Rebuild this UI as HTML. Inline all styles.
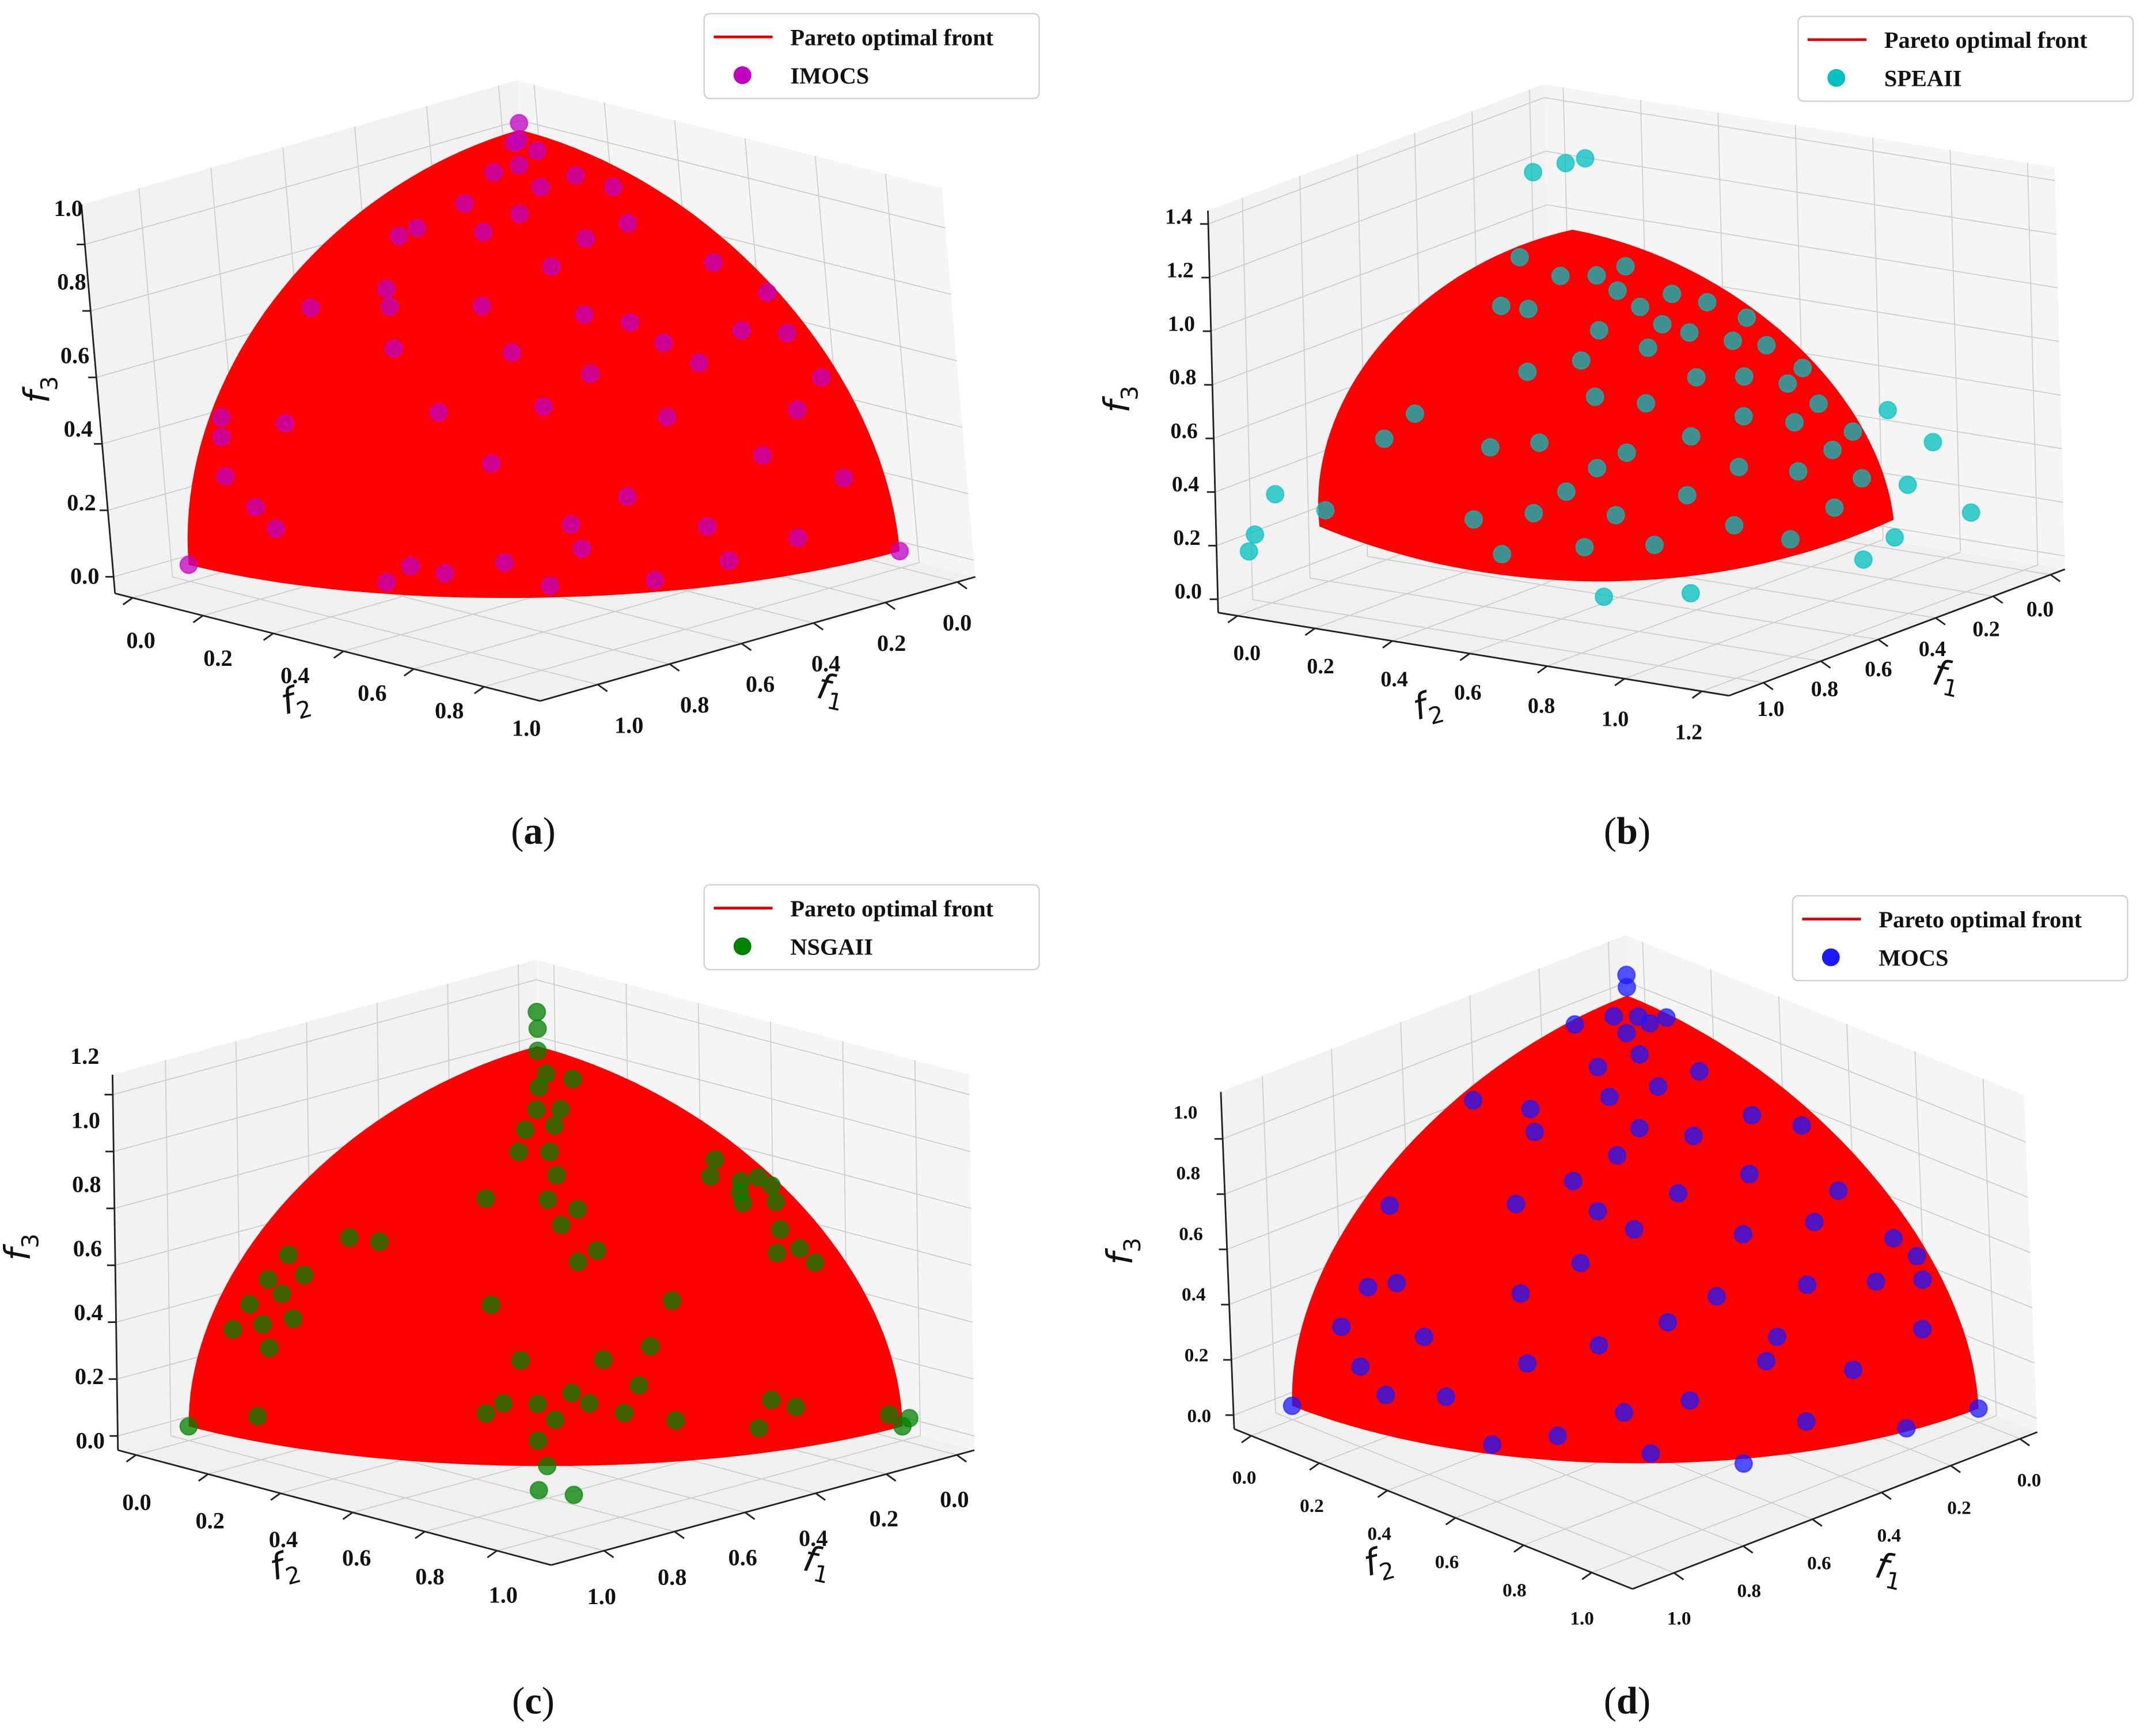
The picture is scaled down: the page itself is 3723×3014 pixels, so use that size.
<!DOCTYPE html>
<html><head><meta charset="utf-8">
<style>html,body{margin:0;padding:0;background:#fff;}svg{display:block}</style></head>
<body>
<svg id="fig" xmlns="http://www.w3.org/2000/svg" width="3723" height="3014" viewBox="0 0 1568 1269.4" preserveAspectRatio="none">
<rect width="1568" height="1270" fill="#fff"/>
</svg>
<script>
// Scatter data: [azimuth deg (0 = f1 edge, 90 = f2 edge), elevation deg, radius]
const imocsPts = [[0,0,1],[90,0,1],[45,90,1.02],[44,86,1],[2,25,1],[3,22,1],[8,45,1],[10,12,1],[13,9,1],[16,60,1],[19,62,1],[20,50,1],[22,47,1],[25,40,1],[27,2,1],[30,5,1],[33,30,1],[34,4,1],[36,62,1],[38,48,1],[40,22,1],[41,6,1],[43,40,1],[45,66,1],[45,78,1],[47,31,1],[46,2,1],[49,12,1],[51,55,1],[53,72,1],[54,36,1],[56,16,1],[58,2,1],[60,82,1],[60,60,1],[62,44,1],[63,28,1],[65,10,1],[67,4,1],[69,74,1],[70,36,1],[72,62,1],[74,20,1],[76,6,1],[78,70,1],[79,40,1],[81,26,1],[83,52,1],[84,14,1],[86,38,1],[87,30,1],[88,45,1],[38,85,1],[33,76,1],[28,68,1],[55,46,1],[66,40,1],[12,26,1],[5,16,1],[50,8,1]];
const speaPts = [[2,10,1.2],[1,2,1.25],[2,0,1.3],[6,8,1.1],[10,25,1],[14,32,1],[22,60,1],[28,28,1],[26,12,1],[30,5,1],[33,45,1],[36,30,1],[38,70,1],[40,20,1],[42,8,1],[44,-3,1.02],[46,40,1],[47,15,1],[49,55,1],[50,28,1],[52,8,1],[53,70,1],[55,38,1],[56,-3,1.03],[58,18,1],[59,50,1],[61,30,1],[62,60,1],[64,10,1],[66,42,1],[67,22,1],[68,72,1],[70,52,1],[71,32,1],[72,4,1],[74,62,1],[75,40,1],[76,18,1],[78,48,1],[79,28,1],[80,8,1],[81,58,1],[82,36,1],[83,20,1],[84,45,1],[85,30,1],[86,12,1],[86,52,1],[87,38,1],[88,22,1],[88,10,1.12],[89,25,1.15],[89,18,1.25],[89,5,1.3],[83,2,1.15],[78,0,1.15],[48,88,1.3],[25,80,1.35],[55,78,1.45],[20,72,1.05],[30,60,1],[44,48,1],[58,65,1],[65,55,1],[35,15,1],[45,25,1]];
const nsgaPts = [[0,0,1],[90,0,1],[90,2,1.02],[47,90,1.12],[46,88,1.08],[45,86,1.02],[4,20,1],[5,25,1],[6,30,1],[7,35,1],[8,22,1],[9,28,1],[10,18,1],[11,32,1],[12,24,1],[15,40,1],[20,40,1],[10,5,1],[35,50,1],[38,30,1],[40,60,1],[41,65,1],[44,5,1],[44,70,1],[45,76,1],[46,50,1],[47,60,1],[48,45,1],[48,55,1],[49,66,1],[50,38,1],[50,80,1],[51,48,1],[52,70,1],[53,40,1],[44,12,1],[46,9,1],[48,14,1],[50,12,1],[52,20,1],[54,10,1],[56,15,1],[58,22,1],[42,20,1],[40,12,1],[38,10,1],[45,0,1],[60,8,1],[62,30,1],[64,78,1],[70,5,1],[72,10,1],[75,8,1],[78,52,1],[80,46,1],[81,48,1],[82,55,1],[83,50,1],[84,36,1],[85,33,1],[86,45,1],[87,50,1],[88,48,1],[80,36,1],[83,40,1],[88,3,1],[48,-6,1],[44,-5,1]];
const mocsPts = [[0,0,1],[90,0,1],[45,90,1.03],[46,92,1.05],[5,40,1],[6,18,1],[8,26,1],[10,12,1],[12,28,1],[14,8,1],[18,20,1],[20,62,1],[22,10,1],[24,58,1],[26,45,1],[28,2,1],[30,30,1],[32,18,1],[34,72,1],[35,50,1],[36,5,1],[38,36,1],[40,66,1],[41,22,1],[43,55,1],[44,10,1],[45,80,1],[46,42,1],[47,2,1],[48,60,1],[50,26,1],[51,75,1],[52,12,1],[54,48,1],[55,68,1],[57,30,1],[58,-1,1],[60,58,1],[62,18,1],[63,40,1],[65,82,1],[66,6,1],[68,50,1],[70,30,1],[71,70,1],[73,14,1],[75,40,1],[76,60,1],[78,2,1.03],[80,28,1],[82,44,1],[84,18,1],[85,56,1],[86,34,1],[87,26,1],[88,30,1],[16,78,1.05],[8,60,1.05],[72,80,1.05],[30,84,1],[58,84,1],[40,45,1],[64,22,1]];
// Axis tick labels
const ticksA3 = [0,0.2,0.4,0.6,0.8,1.0];
const ticksA2 = [0,0.2,0.4,0.6,0.8,1.0];
const ticksA1 = [0,0.2,0.4,0.6,0.8,1.0];
const ticksB3 = [0,0.2,0.4,0.6,0.8,1.0,1.2,1.4];
const ticksB2 = [0,0.2,0.4,0.6,0.8,1.0,1.2];
const ticksB1 = [0,0.2,0.4,0.6,0.8,1.0];
const ticksC3 = [0,0.2,0.4,0.6,0.8,1.0,1.2];
const ticksD3 = [0,0.2,0.4,0.6,0.8,1.0];
const legendNames = ["IMOCS","SPEAII","NSGAII","MOCS"];
const captions = ["(a)","(b)","(c)","(d)"];

const NS = "http://www.w3.org/2000/svg";
const svg = document.getElementById('fig');
function mk(tag, attrs, parent, txt){
  const e = document.createElementNS(NS, tag);
  for (const k in attrs) e.setAttribute(k, attrs[k]);
  if (txt !== undefined) e.textContent = txt;
  (parent||svg).appendChild(e);
  return e;
}

const panels = [
  {O:[401,338],e1:[-263,75],e2:[257,65],e3:[-21,-243],q:[0,0],lo:-0.05,hi1:1.16,hi2:1.16,hi3:1.12,t1:ticksA1,t2:ticksA2,t3:ticksA3,
   pts:imocsPts,col:'#bf00bf',leg:[515,10],cap:[390,607],tl3:[36,285],tl2:[218,520],tl1:[606,512],fs:17,
   lab3:[[62,421],[50,152],1],lab2:[[103,468],[385,532],1],lab1:[[700,455],[460,530],1]},
  {O:[1170,340],e1:[-205,45],e2:[215,40],e3:[-20,-172],q:[0,50],lo:-0.05,hi1:1.12,hi2:1.27,hi3:1.45,t1:ticksB1,t2:ticksB2,t3:ticksB3,
   box:{O:[1140,352],e1:[-210,79],e2:[283,46],e3:[-5,-196]},
   pts:speaPts,col:'#00bfbf',leg:[1315,12],cap:[1190,607],tl3:[826,292],tl2:[1046,524],tl1:[1422,502],fs:16,
   lab3:[[869,432],[862,158],1.4],lab2:[[912,477],[1235,535],1.2],lab1:[[1492,445],[1295,518],1]},
  {O:[396,973],e1:[-258,70],e2:[264,70],e3:[-3,-208],q:[0,0],lo:-0.05,hi1:1.15,hi2:1.15,hi3:1.27,t1:ticksA1,t2:ticksA2,t3:ticksC3,
   pts:nsgaPts,col:'#008000',leg:[515,647],cap:[390,1243],tl3:[22,912],tl2:[210,1153],tl1:[596,1150],fs:17,
   lab3:[[66,1053],[62,772],1.2],lab2:[[100,1098],[368,1166],1],lab1:[[698,1096],[440,1167],1]},
  {O:[1198,930],e1:[-253,98],e2:[249,100],e3:[-8,-202],q:[0,0],lo:-0.05,hi1:1.12,hi2:1.12,hi3:1.17,t1:ticksA1,t2:ticksA2,t3:ticksD3,
   pts:mocsPts,col:'#1a1aff',leg:[1311,655],cap:[1190,1243],tl3:[828,915],tl2:[1010,1150],tl1:[1380,1155],fs:14,
   lab3:[[877,1035],[867,813],1],lab2:[[910,1080],[1157,1183],1],lab1:[[1484,1082],[1228,1183],1]}
];

panels.forEach((p, pi) => {
  const g = mk('g', {});
  
  
  const P = (a,b,c) => [p.O[0]+a*p.e1[0]+b*p.e2[0]+c*p.e3[0]+a*b*p.q[0],
                        p.O[1]+a*p.e1[1]+b*p.e2[1]+c*p.e3[1]+a*b*p.q[1]];
  const bx = p.box || {O:p.O,e1:p.e1,e2:p.e2,e3:p.e3};
  const B = (a,b,c) => (p.box ? [bx.O[0]+a*bx.e1[0]+b*bx.e2[0]+c*bx.e3[0], bx.O[1]+a*bx.e1[1]+b*bx.e2[1]+c*bx.e3[1]] : P(a,b,c));
  const poly = (arr) => arr.map(v=>v[0].toFixed(1)+','+v[1].toFixed(1)).join(' ');
  const lo=p.lo, h1=p.hi1, h2=p.hi2, h3=p.hi3;
  const floor = mk('polygon',{points:poly([B(lo,lo,lo),B(h1,lo,lo),B(h1,h2,lo),B(lo,h2,lo)]),fill:'#f0f0f0',stroke:'none'},g);
   
  const w1 = mk('polygon',{points:poly([B(lo,lo,lo),B(lo,h2,lo),B(lo,h2,h3),B(lo,lo,h3)]),fill:'#f5f5f5',stroke:'none'},g);
   
  const w2 = mk('polygon',{points:poly([B(lo,lo,lo),B(h1,lo,lo),B(h1,lo,h3),B(lo,lo,h3)]),fill:'#f2f2f2',stroke:'none'},g);
   
  const line=(a,b,attrs)=>mk('line',Object.assign({x1:a[0],y1:a[1],x2:b[0],y2:b[1]},attrs),g);
  const gs={stroke:'#cfcfcf','stroke-width':0.8};
  p.t1.forEach(v=>{line(B(v,lo,lo),B(v,h2,lo),gs);line(B(v,lo,lo),B(v,lo,h3),gs);});
  p.t2.forEach(v=>{line(B(lo,v,lo),B(h1,v,lo),gs);line(B(lo,v,lo),B(lo,v,h3),gs);});
  p.t3.forEach(v=>{line(B(lo,lo,v),B(lo,h2,v),gs);line(B(lo,lo,v),B(h1,lo,v),gs);});
  const as={stroke:'#222','stroke-width':1.2};
  line(B(h1,lo,lo),B(h1,lo,h3),as);
  line(B(h1,lo,lo),B(h1,h2,lo),as);
  line(B(h1,h2,lo),B(lo,h2,lo),as);
  const lab=(L,v)=>[L[0][0]+(L[1][0]-L[0][0])*v/L[2], L[0][1]+(L[1][1]-L[0][1])*v/L[2]];
  const tf={'font-family':'"Liberation Serif",serif','font-weight':'bold','font-size':p.fs,fill:'#111','text-anchor':'middle'};
  p.t3.forEach(v=>{const q=B(h1,lo,v);line(q,[q[0]-6,q[1]],as);
    const s=lab(p.lab3,v);
    const t=mk('text',Object.assign({x:s[0].toFixed(1),y:(s[1]+p.fs*0.35).toFixed(1)},tf),g,v.toFixed(1));
     });
  p.t2.forEach(v=>{const q=B(h1,v,lo);line(q,[q[0]-7,q[1]+5],as);
    const s=lab(p.lab2,v);
    const t=mk('text',Object.assign({x:s[0].toFixed(1),y:(s[1]+p.fs*0.35).toFixed(1)},tf),g,v.toFixed(1));
     });
  p.t1.forEach(v=>{const q=B(v,h2,lo);line(q,[q[0]+7,q[1]+5],as);
    const s=lab(p.lab1,v);
    const t=mk('text',Object.assign({x:s[0].toFixed(1),y:(s[1]+p.fs*0.35).toFixed(1)},tf),g,v.toFixed(1));
     });
  const af={'font-family':'"DejaVu Sans",sans-serif','font-size':26,fill:'#111'};
  const mkTitle=(pos,rot,sub,name)=>{const t=mk('text',Object.assign({x:pos[0],y:pos[1],'text-anchor':'middle',transform:`rotate(${rot} ${pos[0]} ${pos[1]})`},af),g);
    mk('tspan',{'font-style':'italic'},t,'f'); mk('tspan',{'font-size':17,dy:6},t,sub);
     };
  mkTitle(p.tl3,-90,'3','f3-axis-title');
  mkTitle(p.tl2,-15,'2','f2-axis-title');
  mkTitle(p.tl1,12,'1','f1-axis-title');
  const pts=[];
  for(let i=0;i<=40;i++){const t=i/40*Math.PI/2;pts.push(P(Math.cos(t),Math.sin(t),0));}
  for(let i=1;i<=40;i++){const t=i/40*Math.PI/2;pts.push(P(0,Math.cos(t),Math.sin(t)));}
  for(let i=1;i<40;i++){const t=i/40*Math.PI/2;pts.push(P(Math.sin(t),0,Math.cos(t)));}
  const surf=mk('polygon',{points:poly(pts),fill:'#ff0000'},g);
   
  p.pts.forEach(d=>{const az=d[0]*Math.PI/180, el=d[1]*Math.PI/180, r=d[2];
    const q=P(r*Math.cos(el)*Math.cos(az), r*Math.cos(el)*Math.sin(az), r*Math.sin(el));
    const c=mk('circle',{cx:q[0].toFixed(1),cy:q[1].toFixed(1),r:6.3,fill:p.col,'fill-opacity':0.75,stroke:p.col,'stroke-opacity':0.6},g);
     });
  const L=p.leg;
  const lg=mk('g',{},g);
   
  mk('rect',{x:L[0],y:L[1],width:245,height:62,rx:4,fill:'#fff','fill-opacity':0.9,stroke:'#d0d0d0'},lg);
  mk('line',{x1:L[0]+7,y1:L[1]+17,x2:L[0]+50,y2:L[1]+17,stroke:'#e00000','stroke-width':2},lg);
  mk('circle',{cx:L[0]+28,cy:L[1]+45,r:6.5,fill:p.col},lg);
  const lf={'font-family':'"Liberation Serif",serif','font-weight':'bold','font-size':17,fill:'#111'};
  const l1=mk('text',Object.assign({x:L[0]+63,y:L[1]+23},lf),lg,'Pareto optimal front');
   
  const l2=mk('text',Object.assign({x:L[0]+63,y:L[1]+51},lf),lg,legendNames[pi]);
   
  const cp=mk('text',{x:p.cap[0],y:p.cap[1]+10,'text-anchor':'middle','font-family':'"Liberation Serif",serif','font-size':28,fill:'#111'},g);
  mk('tspan',{},cp,'(');mk('tspan',{'font-weight':'bold'},cp,captions[pi].slice(1,2));mk('tspan',{},cp,')');
   
});
</script>
</body></html>
